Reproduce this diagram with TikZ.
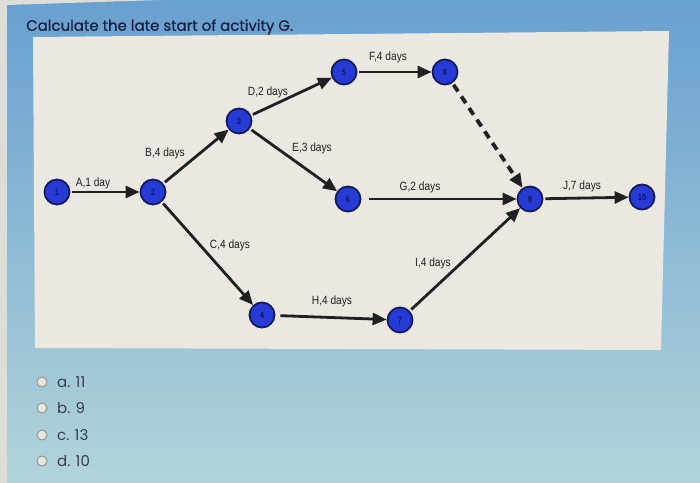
\documentclass[tikz,border=0pt]{standalone}
\usepackage{fontspec}
\setmainfont{Poppins}
\newfontfamily\lblfont[FakeStretch=0.85]{Liberation Sans}
\newfontfamily\titlefont[FakeBold=0.6]{Poppins}
\usetikzlibrary{arrows.meta}
\definecolor{bgtop}{RGB}{104,160,208}
\definecolor{bgbot}{RGB}{178,212,218}
\definecolor{panel}{RGB}{234,232,224}
\definecolor{strip}{RGB}{222,222,214}
\definecolor{nodefill}{RGB}{38,58,214}
\definecolor{nodeline}{RGB}{18,26,90}
\definecolor{edgec}{RGB}{32,32,34}
\definecolor{titlec}{RGB}{26,30,64}
\definecolor{optc}{RGB}{56,60,76}
\definecolor{radiofill}{RGB}{232,232,222}
\definecolor{radioline}{RGB}{150,150,145}
\begin{document}
\begin{tikzpicture}[x=1bp,y=-1bp,
  evt/.style={circle,draw=nodeline,line width=1.8bp,fill=nodefill,minimum size=25bp,inner sep=0pt,font=\lblfont\fontsize{9}{9}\selectfont\bfseries,text=nodeline},
  act/.style={draw=edgec,line width=2.8bp,-{Triangle[length=14bp,width=12bp]},shorten <=2bp},
  dummy/.style={act,dash pattern=on 8bp off 6bp,line width=3.8bp},
  lbl/.style={font=\lblfont\fontsize{12}{12}\selectfont,text=edgec,inner sep=0pt},
  radio/.style={circle,draw=radioline,line width=1bp,fill=radiofill,minimum size=10bp,inner sep=0pt},
  opt/.style={font=\fontsize{15}{17}\selectfont,text=optc,anchor=west,inner sep=0pt}]
\useasboundingbox (0,0) rectangle (700,483);
% background
\shade[top color=bgtop,bottom color=bgbot] (0,0) rectangle (700,483);
\fill[strip] (0,0) rectangle (7,483);
\fill[strip] (7,0) -- (160,0) -- (7,5) -- cycle;
\fill[panel] (33,37) -- (669,31) -- (661,350) -- (35,348) -- cycle;
% title
\node[anchor=west,font=\titlefont\fontsize{15}{17}\selectfont,text=titlec,inner sep=0pt] (title) at (26,27) {Calculate the late start of activity G.};
% events
\node[evt] (n1) at (57,192) {1};
\node[evt] (n2) at (153,192) {2};
\node[evt] (n3) at (239,121) {3};
\node[evt] (n5) at (344,72) {5};
\node[evt] (n8) at (445,72) {8};
\node[evt] (n6) at (348,199) {6};
\node[evt] (n9) at (530,199) {9};
\node[evt] (n10) at (642,197) {10};
\node[evt] (n4) at (262,315) {4};
\node[evt] (n7) at (400,320) {7};
% activities
\draw[act] (n1) -- (n2);
\draw[act] (n2) -- (n3);
\draw[act] (n2) -- (n4);
\draw[act] (n3) -- (n5);
\draw[act] (n3) -- (n6);
\draw[act] (n5) -- (n8);
\draw[act,shorten <=8bp] (n6) -- (n9);
\draw[act,shorten <=5bp] (n4) -- (n7);
\draw[act] (n7) -- (n9);
\draw[act] (n9) -- (n10);
\draw[dummy] (n8) -- (n9);
% labels
\node[lbl] (lA) at (93,183) {A,1 day};
\node[lbl] (lB) at (165,153) {B,4 days};
\node[lbl] (lC) at (230,245) {C,4 days};
\node[lbl] (lD) at (268,92) {D,2 days};
\node[lbl] (lE) at (312,148) {E,3 days};
\node[lbl] (lF) at (388,57) {F,4 days};
\node[lbl] (lG) at (420,187) {G,2 days};
\node[lbl] (lH) at (332,301) {H,4 days};
\node[lbl] (lI) at (433,263) {I,4 days};
\node[lbl] (lJ) at (582,186) {J,7 days};
% options
\node[radio] (r1) at (42,382) {};
\node[radio] (r2) at (42,408) {};
\node[radio] (r3) at (42,435) {};
\node[radio] (r4) at (42,461) {};
\node[opt] (o1) at (57,382) {a. 11};
\node[opt] (o2) at (57,408) {b. 9};
\node[opt] (o3) at (57,435) {c. 13};
\node[opt] (o4) at (57,461) {d. 10};
\end{tikzpicture}
\end{document}
